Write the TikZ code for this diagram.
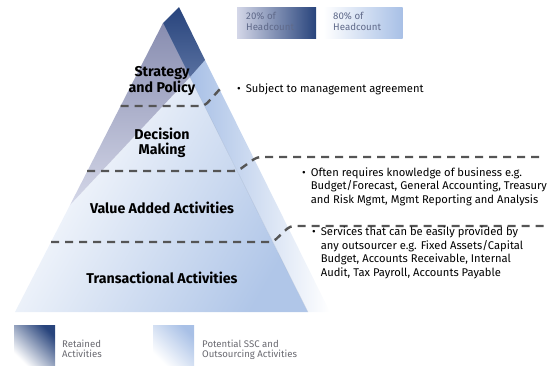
\documentclass[tikz,border=0pt]{standalone}
\usepackage{fontspec}
\setmainfont{Fira Sans}
\usetikzlibrary{positioning}
\usetikzlibrary{calc}

\definecolor{navy}{RGB}{40,68,124}
\definecolor{navyfade}{RGB}{88,112,160}
\definecolor{paleblue}{RGB}{168,192,230}
\definecolor{frontblue}{RGB}{176,198,232}
\definecolor{greyblue}{RGB}{136,141,176}
\definecolor{greyfade}{RGB}{212,215,232}
\definecolor{dashgrey}{RGB}{85,85,85}
\definecolor{legendgrey}{RGB}{105,105,112}
\definecolor{hcgrey}{RGB}{96,106,138}

\newcommand{\bnote}[1]{\begin{tabular}[t]{@{}l@{\hspace{5pt}}l@{}}\textbullet & \begin{tabular}[t]{@{}l@{}}#1\end{tabular}\end{tabular}}

\tikzset{
  layer/.style={font=\fontsize{14.2}{15.5}\selectfont\bfseries, align=center, inner sep=0pt},
  note/.style={font=\fontsize{11.2}{13.5}\selectfont, anchor=north west, inner sep=0pt},
  dashline/.style={draw=dashgrey, line width=2.4pt, dash pattern=on 8pt off 6pt, rounded corners=4pt},
  hcbox/.style={minimum width=79pt, minimum height=31pt, inner sep=0pt},
  hctext/.style={font=\fontsize{9.7}{11}\selectfont, text=hcgrey, align=left, inner sep=0pt, anchor=north west},
  legbox/.style={minimum width=41pt, minimum height=40pt, inner sep=0pt, anchor=north west},
  legtext/.style={font=\fontsize{9.6}{10.5}\selectfont, text=legendgrey, align=left, anchor=north west, inner sep=0pt}
}

\begin{document}
\begin{tikzpicture}[x=1pt,y=-1pt]
    \useasboundingbox (0,0) rectangle (556,365);

    % corners of the pyramid
    \coordinate (apex) at (179,7);
    \coordinate (tl) at (163,23);
    \coordinate (tr) at (205,60);
    \coordinate (ridge) at (190,77);
    \coordinate (tip) at (70,205);
    \coordinate (bl) at (15,312);
    \coordinate (bm) at (308,312);
    \coordinate (br) at (330,312);

    % faces
    \shade[top color=white, bottom color=frontblue, shading angle=60] (ridge) -- (bm) -- (bl) -- (tip) -- cycle;
    \shade[left color=paleblue, right color=white] (ridge) -- (tr) -- (br) -- (bm) -- cycle;
    \shade[top color=greyblue, bottom color=greyfade] (tl) -- (ridge) -- (tip) -- cycle;
    \shade[top color=navy, bottom color=navyfade] (apex) -- (tr) -- (ridge) -- (tl) -- cycle;
    \draw[paleblue!80!black, line width=0.3pt, opacity=0.4] (ridge) -- (bm);

    % dashed layer borders
    \coordinate (d1a) at (120.5,106);
    \coordinate (d1b) at (204.5,106);
    \coordinate (d1c) at (220,89);
    \coordinate (d2a) at (87,171);
    \coordinate (d2b) at (237.5,171);
    \coordinate (d2c) at (257,157);
    \coordinate (d2d) at (545,157);
    \coordinate (d3a) at (51,242);
    \coordinate (d3b) at (273,242);
    \coordinate (d3c) at (290,226);
    \coordinate (d3d) at (545,226);
    \draw[dashline] (d1a) -- (d1b) -- (d1c);
    \draw[dashline] (d2a) -- (d2b) -- (d2c) -- (d2d);
    \draw[dashline] (d3a) -- (d3b) -- (d3c) -- (d3d);

    % layer names
    \node[layer] (strategy) at (162,81) {Strategy\\and Policy};
    \node[layer] (decision) at (162,143) {Decision\\Making};
    \node[layer] (value) at (162,208) {Value Added Activities};
    \node[layer] (trans) at (162,278) {Transactional Activities};

    % notes
    \node[note] (subject) at (237,82.5) {\bnote{Subject to management agreement}};
    \node[note] (knowledge) at (302,166.5) {\bnote{Often requires knowledge of business e.g.\\Budget/Forecast, General Accounting, Treasury\\and Risk Mgmt, Mgmt Reporting and Analysis}};
    \node[note] (services) at (312,226) {\bnote{Services that can be easily provided by\\any outsourcer e.g. Fixed Assets/Capital\\Budget, Accounts Receivable, Internal\\Audit, Tax Payroll, Accounts Payable}};

    % headcount keys
    \node[hcbox, left color=greyfade, right color=navy] (hc20) at (276.5,22.5) {};
    \node[hcbox, left color=white, right color=paleblue] (hc80) at (363,22.5) {};
    \node[hctext] (hc20t) at (246,12.5) {20\% of\\Headcount};
    \node[hctext] (hc80t) at (333,12.5) {80\% of\\Headcount};

    % legend
    \node[legbox, top color=navy, bottom color=white, shading angle=-45] (retained) at (14,325) {};
    \node[legbox, top color=paleblue, bottom color=white, shading angle=-45] (potential) at (153,325) {};
    \node[legtext] (retainedt) at (62,339.5) {Retained\\Activities};
    \node[legtext] (potentialt) at (202,339.5) {Potential SSC and\\Outsourcing Activities};
\end{tikzpicture}
\end{document}
